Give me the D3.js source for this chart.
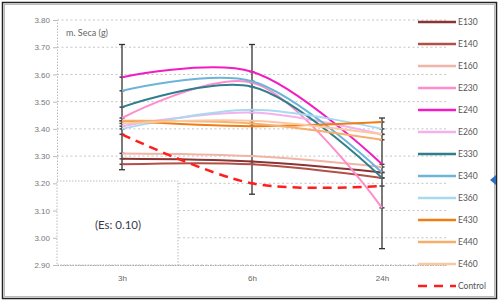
<!DOCTYPE html>
<html>
  <meta charset="utf-8" />
  <script src="https://d3js.org/d3.v7.min.js"></script>
  <style>
    body { margin: 0; background: #fff; }
    svg { display: block; font-family: Lato, "Liberation Sans", sans-serif; }
  </style>
  <body>
    <svg width="500" height="306" id="chart"></svg>
    <script>
      // data
      const times = ["3h", "6h", "24h"];
      const yTicks = [2.9, 3.0, 3.1, 3.2, 3.3, 3.4, 3.5, 3.6, 3.7, 3.8];
      const seriesNames = ["E130", "E140", "E160", "E230", "E240", "E260", "E330", "E340", "E360", "E430", "E440", "E460", "Control"];
      const E130 = [3.29, 3.28, 3.24];
      const E140 = [3.27, 3.27, 3.22];
      const E160 = [3.31, 3.3, 3.26];
      const E230 = [3.44, 3.57, 3.11];
      const E240 = [3.59, 3.61, 3.27];
      const E260 = [3.41, 3.46, 3.38];
      const E330 = [3.48, 3.555, 3.22];
      const E340 = [3.54, 3.575, 3.24];
      const E360 = [3.4, 3.47, 3.4];
      const E430 = [3.43, 3.41, 3.425];
      const E440 = [3.43, 3.42, 3.36];
      const E460 = [3.42, 3.43, 3.38];
      const Control = [3.38, 3.2, 3.19];
      const errHigh = [3.71, 3.71, 3.44];
      const errLow = [3.25, 3.16, 2.96];

      const seriesValues = [E130, E140, E160, E230, E240, E260, E330, E340, E360, E430, E440, E460, Control];
      const colors = ["#8a3434", "#b25048", "#f2b4a6", "#ff8ccc", "#f21cc0", "#f2b2ee", "#2f7e8c", "#6cb4d8", "#a9d9ef", "#ef7d14", "#f7ae6c", "#f8c9a2", "#ff1e1e"];

      const svg = d3.select("#chart");
      const plotLeft = 57, plotRight = 447, plotTop = 20, plotBottom = 265;

      const x = d3.scalePoint().domain(times).range([plotLeft, plotRight]).padding(0.5);
      const y = d3.scaleLinear().domain([2.9, 3.8]).range([plotBottom, plotTop]);

      // outer frame
      svg.append("rect").attr("x", 2.5).attr("y", 2.5).attr("width", 494).attr("height", 296)
        .attr("fill", "none").attr("stroke", "#222").attr("stroke-width", 1.5);
      svg.append("rect").attr("x", 4.5).attr("y", 4.5).attr("width", 490).attr("height", 292)
        .attr("fill", "none").attr("stroke", "#bbb").attr("stroke-width", 1);

      // gridlines
      svg.append("g")
        .selectAll("line")
        .data(yTicks)
        .enter()
        .append("line")
        .attr("x1", plotLeft)
        .attr("x2", plotRight)
        .attr("y1", (d) => y(d))
        .attr("y2", (d) => y(d))
        .attr("stroke", "#c4c4c4")
        .attr("stroke-width", 1)
        .attr("stroke-dasharray", "2,2.5");

      // y axis
      const yAxis = svg.append("g")
        .attr("transform", `translate(${plotLeft},0)`)
        .call(d3.axisLeft(y).tickValues(yTicks).tickFormat(d3.format(".2f")).tickSize(4));
      yAxis.select(".domain").attr("stroke", "#bbb").attr("stroke-dasharray", "1.5,1.5");
      yAxis.selectAll(".tick line").attr("stroke", "#bbb");
      yAxis.selectAll("text").attr("fill", "#777").attr("font-size", 8).attr("x", -7);

      // x axis
      const xAxis = svg.append("g")
        .attr("transform", `translate(0,${plotBottom})`)
        .call(d3.axisBottom(x).tickSize(0));
      xAxis.select(".domain").attr("stroke", "#aaa").attr("stroke-dasharray", "1.5,1");
      xAxis.selectAll("text").attr("fill", "#666").attr("font-size", 8).attr("dy", "1.6em");

      // error bars
      const err = svg.append("g");
      err.selectAll("line.bar")
        .data(times)
        .enter()
        .append("line")
        .attr("x1", (d) => x(d))
        .attr("x2", (d) => x(d))
        .attr("y1", (d, i) => y(errHigh[i]))
        .attr("y2", (d, i) => y(errLow[i]))
        .attr("stroke", "#333")
        .attr("stroke-width", 1.3);
      times.forEach(function (t, i) {
        [errHigh[i], errLow[i]].forEach(function (v) {
          err.append("line")
            .attr("x1", x(t) - 3).attr("x2", x(t) + 3)
            .attr("y1", y(v)).attr("y2", y(v))
            .attr("stroke", "#333").attr("stroke-width", 1.3);
        });
        seriesValues.forEach(function (vals) {
          err.append("line")
            .attr("x1", x(t) - 2.5).attr("x2", x(t) + 2.5)
            .attr("y1", y(vals[i])).attr("y2", y(vals[i]))
            .attr("stroke", "#444").attr("stroke-width", 1.5);
        });
      });

      // lines
      const line = d3.line()
        .x((d, i) => x(times[i]))
        .y((d) => y(d))
        .curve(d3.curveCatmullRom.alpha(0.5));

      svg.append("g")
        .selectAll("path")
        .data(seriesValues)
        .enter()
        .append("path")
        .attr("d", (d) => line(d))
        .attr("fill", "none")
        .attr("stroke", (d, i) => colors[i])
        .attr("stroke-width", (d, i) => (seriesNames[i] == "Control" ? 2.5 : 2))
        .attr("stroke-dasharray", (d, i) => (seriesNames[i] == "Control" ? "9,6" : null));

      // white note box in lower left
      svg.append("rect")
        .attr("x", plotLeft)
        .attr("y", 181)
        .attr("width", 121)
        .attr("height", plotBottom - 181)
        .attr("fill", "#fff")
        .attr("stroke", "#bbb")
        .attr("stroke-dasharray", "1.5,1.5");
      svg.append("text")
        .attr("x", 118)
        .attr("y", 229)
        .attr("text-anchor", "middle")
        .attr("font-size", 11.5)
        .attr("fill", "#3a3a4a")
        .text("(Es: 0.10)");

      // title
      svg.append("text")
        .attr("x", 66)
        .attr("y", 36)
        .attr("font-size", 9)
        .attr("fill", "#666")
        .text("m. Seca (g)");

      // legend
      const legend = svg.append("g")
        .selectAll("g")
        .data(seriesNames)
        .enter()
        .append("g")
        .attr("transform", (d, i) => `translate(418, ${22 + i * 22})`);
      legend.append("line")
        .attr("x1", 0)
        .attr("x2", 38)
        .attr("stroke", (d, i) => colors[i])
        .attr("stroke-width", 2.5)
        .attr("stroke-dasharray", (d) => (d == "Control" ? "9,7" : null));
      legend.append("text")
        .attr("x", 40)
        .attr("dy", "0.35em")
        .attr("font-size", 8.5)
        .attr("fill", "#555")
        .text((d) => d);

      // small blue marker at right edge
      svg.append("path")
        .attr("d", "M490,180 L496,175 L496,185 Z")
        .attr("fill", "#2f6fc0");
    </script>
  </body>
</html>
